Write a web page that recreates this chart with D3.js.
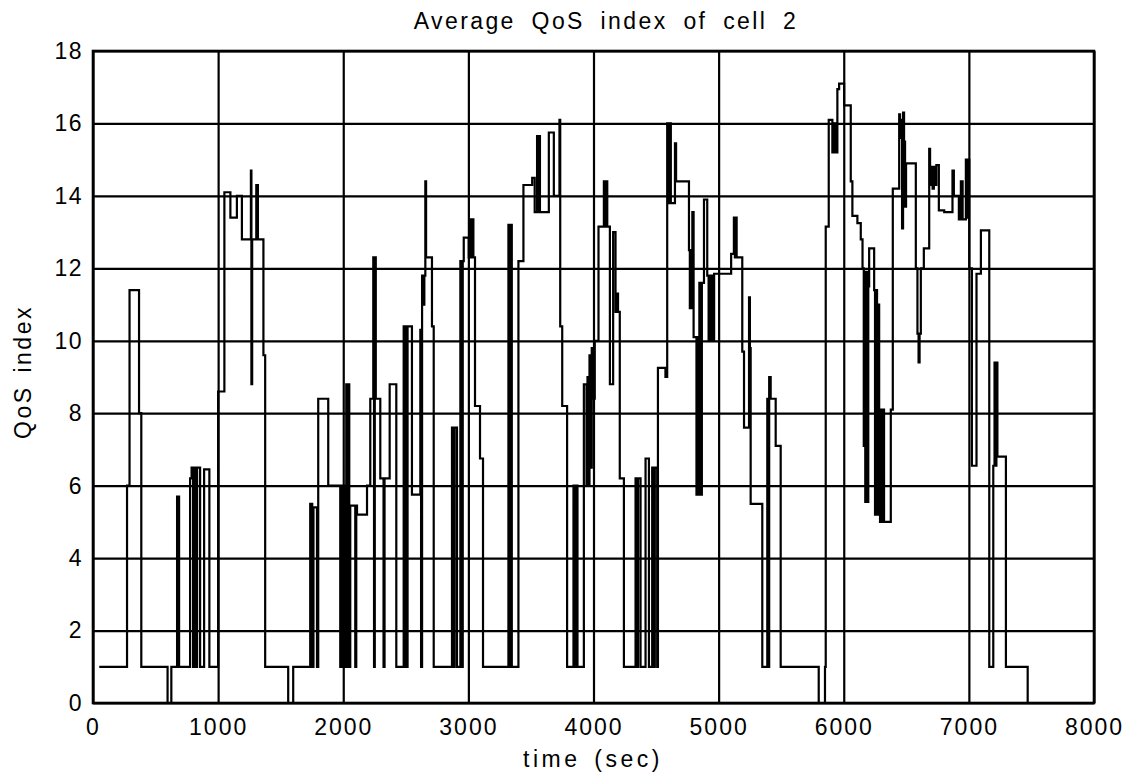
<!DOCTYPE html>
<html><head><meta charset="utf-8">
<script src="https://cdn.jsdelivr.net/npm/d3@7/dist/d3.min.js"></script>
<style>body{margin:0;background:#fff} text{font-family:"Liberation Sans",Arial,sans-serif;fill:#000}</style>
</head><body><svg id="c" width="1130" height="772"></svg>
<script>
const titleText = "Average QoS index of cell 2";
const xLabel = "time (sec)";
const yLabel = "QoS index";
const xTicks = [0,1000,2000,3000,4000,5000,6000,7000,8000];
const yTicks = [0,2,4,6,8,10,12,14,16,18];
// [time (sec), QoS index] step changes, value holds until next time
const qosSteps = [
[50,1],[272,6],[292,11.4],[368,8],[386,1],[596,0],[626,1],
[672,5.7],[688,1],
[776,6.2],[788,6.5],[800,1],[808,6.5],[822,1],[832,6.5],[856,1],[888,6.45],[930,1],
[1000,8.6],[1050,14.1],[1098,13.4],[1150,14.0],[1190,12.8],[1262,14.7],[1266,8.8],[1272,12.8],[1305,14.3],[1318,12.8],[1362,9.6],[1376,1],
[1560,0],[1600,1],
[1736,5.5],[1752,1],[1762,5.4],[1790,1],[1800,8.4],[1880,6],[1976,1],[1990,6],[2010,1],
[2024,8.8],[2032,1],[2040,8.8],[2048,1],[2056,5.45],[2096,1],[2104,5.45],[2110,5.2],[2190,6],
[2216,8.4],[2240,12.3],[2246,1],[2252,12.3],[2260,8.4],[2296,6.2],[2322,1],[2330,6.2],[2371,8.8],[2424,1],
[2483,10.4],[2490,1],[2498,10.4],[2506,1],[2514,10.4],[2549,5.75],[2616,10.3],[2622,1],[2630,11.8],[2640,11.0],[2648,11.8],[2656,14.4],[2662,12.3],[2709,10.4],[2723,1],
[2869,7.6],[2880,1],[2890,7.6],[2909,1],
[2936,12.2],[2945,1],[2955,12.2],[2963,12.85],[3003,12.3],[3013,13.35],[3020,12.3],[3028,13.35],[3040,12.3],[3053,8.2],[3093,6.75],[3117,1],
[3320,13.2],[3330,1],[3338,13.2],[3347,1],[3400,12.2],[3440,14.3],[3510,14.5],[3530,13.55],[3549,15.65],[3556,13.55],[3564,15.65],[3572,13.55],[3643,15.75],[3683,14.0],[3728,16.1],[3734,10.4],[3750,8.2],[3789,1],
[3840,6],[3850,1],[3860,6],[3872,1],
[3923,8.8],[3944,6],[3952,9.0],[3960,6],[3968,9.6],[3976,6.5],[3986,9.8],[3996,8.4],[4010,10.0],[4040,13.15],[4083,14.4],[4090,13.15],[4100,14.4],[4110,13.15],[4131,8.8],[4157,13.0],[4176,10.8],[4190,11.3],[4196,10.8],[4210,6.2],[4243,1],
[4336,6.2],[4346,1],[4356,6.2],[4376,1],[4416,6.75],[4443,1],[4469,6.5],[4480,1],[4490,6.5],[4509,1],
[4515,9.25],[4575,9.0],[4589,16.0],[4600,13.8],[4610,16.0],[4618,13.8],[4651,15.45],[4660,14.4],[4763,12.5],[4770,10.9],[4776,12.5],[4782,10.9],[4790,13.55],[4800,10.1],[4823,5.75],[4830,10.1],[4838,5.75],[4846,11.6],[4856,5.75],[4866,11.6],[4883,13.9],[4909,11.8],[4920,10.0],[4928,11.8],[4936,10.0],[4944,11.8],[4952,10.0],[4964,11.85],[5100,12.4],[5122,13.4],[5130,12.3],[5136,13.4],[5144,12.3],[5189,9.7],[5203,7.6],[5243,11.2],[5250,9.8],[5256,5.5],[5349,1],
[5389,8.4],[5396,1],[5404,9.0],[5416,8.4],[5456,7.1],[5496,1],
[5800,0],[5850,1],[5856,13.15],[5880,16.1],[5909,15.2],[5918,16.0],[5926,15.2],[5934,16.0],[5942,15.2],[5949,16.95],[5963,17.1],[6003,16.5],[6056,14.4],[6069,13.45],[6109,13.25],[6136,12.8],
[6150,12.0],[6160,7.1],[6165,11.9],[6172,5.55],[6180,11.9],[6188,5.55],[6196,11.5],[6203,12.55],[6243,11.4],[6250,5.2],[6258,11.4],[6266,5.2],[6274,11.0],[6283,8.1],[6290,5.0],[6298,8.1],[6306,5.0],[6314,8.1],[6322,5.0],[6376,8.1],[6392,14.2],
[6443,16.25],[6450,15.6],[6458,16.1],[6466,13.1],[6474,16.3],[6482,15.5],[6490,13.7],[6498,14.9],[6576,12.0],[6589,10.2],[6598,9.4],[6606,10.2],[6616,12.0],[6640,12.55],[6683,15.3],[6690,14.3],[6700,14.8],[6710,14.2],[6720,14.8],[6730,14.3],[6740,14.85],[6760,13.6],[6803,13.55],[6869,14.7],[6880,14.0],[6920,13.35],[6936,14.4],[6950,13.35],[6976,15.0],[6984,13.4],[6992,15.0],[7003,12.0],[7024,6.55],[7061,11.85],[7096,13.05],[7163,1],[7195,6.55],[7205,9.4],[7212,6.55],[7220,9.4],[7228,6.8],[7296,1],[7470,0],[7480,0]
];

const svg = d3.select("#c");
const L=93, R=1094, T=51, B=703;
const x = d3.scaleLinear().domain([0,8000]).range([L,R]);
const y = d3.scaleLinear().domain([0,18]).range([B,T]);

// x axis + vertical grid
const gx = svg.append("g").attr("transform",`translate(0,${B})`)
  .call(d3.axisBottom(x).tickValues(xTicks).tickFormat(d3.format("d")).tickSizeInner(-(B-T)).tickSizeOuter(0).tickPadding(16));
gx.select(".domain").remove();
gx.selectAll("line").attr("stroke","#000").attr("stroke-width",2.2);
gx.selectAll("text").attr("font-size",23).attr("letter-spacing","2px").attr("fill","#000");

// y axis + horizontal grid
const gy = svg.append("g").attr("transform",`translate(${L},0)`)
  .call(d3.axisLeft(y).tickValues(yTicks).tickSizeInner(-(R-L)).tickSizeOuter(0).tickPadding(10));
gy.select(".domain").remove();
gy.selectAll("line").attr("stroke","#000").attr("stroke-width",2.2);
gy.selectAll("text").attr("font-size",23).attr("letter-spacing","1.5px").attr("fill","#000");

// data
const line = d3.line().x(d=>x(d[0])).y(d=>y(d[1])).curve(d3.curveStepAfter);
svg.append("path").datum(qosSteps).attr("d",line)
  .attr("fill","none").attr("stroke","#000").attr("stroke-width",2.2);

// frame
svg.append("rect").attr("x",L).attr("y",T).attr("width",R-L).attr("height",B-T)
  .attr("fill","none").attr("stroke","#000").attr("stroke-width",2.6);

// labels
svg.append("text").attr("x",606).attr("y",29).attr("text-anchor","middle")
  .attr("font-size",23).attr("letter-spacing","2.4px").attr("word-spacing","7px").text(titleText);
svg.append("text").attr("x",593).attr("y",767).attr("text-anchor","middle")
  .attr("font-size",23).attr("letter-spacing","3.5px").attr("word-spacing","4px").text(xLabel);
svg.append("text").attr("transform","translate(31,372) rotate(-90)").attr("text-anchor","middle")
  .attr("font-size",23).attr("letter-spacing","2.5px").attr("word-spacing","4px").text(yLabel);
</script></body></html>
